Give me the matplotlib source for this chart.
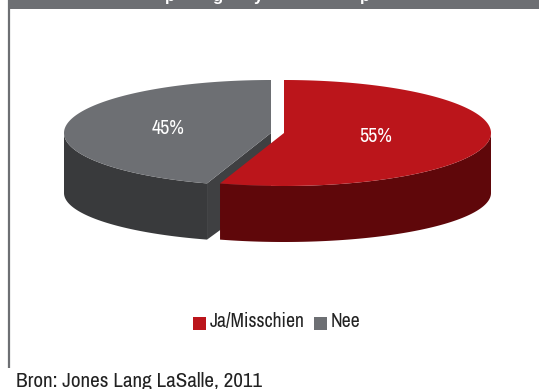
import numpy as np
import matplotlib
matplotlib.use("Agg")
import matplotlib.pyplot as plt

plt.rcParams["font.family"] = ["Archivo Narrow", "Liberation Sans", "DejaVu Sans"]

labels = ["Ja/Misschien", "Nee"]
shares = [55, 45]
source = "Bron: Jones Lang LaSalle, 2011"

top_colors = ["#bb151b", "#6d6f73"]
side_colors = ["#5f070a", "#393a3c"]
cut_color = "#3f4042"
bar_color = "#6d6f73"

# ellipse shape of the tilted pie, in pixels
RX, RY = 207, 53
RY_LOW = 49
CY, CY_LOW = 133, 193
CX = [284, 271]


def arc(cx, cy, ry, a0, a1):
    t = np.radians(np.linspace(a0, a1, 200))
    return cx + RX * np.cos(t), cy - ry * np.sin(t)


def draw_wall(ax, cx, a0, a1, color, zorder):
    xs, ys = arc(cx, CY, RY, a0, a1)
    xb, yb = arc(cx, CY_LOW, RY_LOW, a1, a0)
    ax.fill(np.r_[xs, xb], np.r_[ys, yb], color=color, lw=0, zorder=zorder)


def draw_top(ax, cx, a0, a1, color, zorder):
    x, y = arc(cx, CY, RY, a0, a1)
    ax.fill(np.r_[cx, x], np.r_[CY, y], color=color, lw=0, zorder=zorder)


fig = plt.figure(figsize=(5.39, 3.89), dpi=100)
ax = fig.add_axes([0, 0, 1, 1])
ax.set_xlim(0, 539)
ax.set_ylim(389, 0)
ax.axis("off")

# frame: header band and left rule
ax.fill_between([8, 539], 0, 8.5, color=bar_color, lw=0)
ax.plot([9, 9], [0, 368], color=bar_color, lw=1.6, solid_capstyle="butt")

# title sits above the canvas, only the descenders come through
for letter, x in zip("pgyp", [170, 217, 258, 365]):
    ax.text(x, 0.5, letter, color="white", fontsize=12, fontweight="bold",
            ha="center", va="baseline", family="Liberation Sans", zorder=3)

split = 90 - 360 * shares[0] / sum(shares)

# grey slice goes first, the red one overlaps its cut face
sx, sy = arc(CX[1], CY, RY, split, split)
lx, ly = arc(CX[1], CY_LOW, RY_LOW, split, split)
ax.fill([sx[0], CX[1], CX[1], lx[0]], [sy[0], CY, CY_LOW, ly[0]],
        color=cut_color, lw=0, zorder=1)
draw_wall(ax, CX[1], -180, split, side_colors[1], 1)
draw_top(ax, CX[1], 90, split + 360, top_colors[1], 2)

# red slice, clockwise from 12 o'clock
draw_wall(ax, CX[0], split, 0, side_colors[0], 4)
draw_top(ax, CX[0], split, 90, top_colors[0], 5)

ax.text(376, 136, f"{shares[0]}%", color="white", fontsize=14.5,
        ha="center", va="center", zorder=6)
ax.text(168, 128, f"{shares[1]}%", color="white", fontsize=14.5,
        ha="center", va="center", zorder=6)

# legend
for i, (lab, sq, tx) in enumerate(zip(labels, [193, 314], [210, 331])):
    ax.fill_between([sq, sq + 13], 317, 330, color=top_colors[i], lw=0)
    ax.text(tx, 327, lab, color="#222222", fontsize=14.2, ha="left", va="baseline")

ax.text(16.5, 387, source, color="#222222", fontsize=15.2, ha="left", va="baseline")

fig.savefig("out.png", dpi=100)
